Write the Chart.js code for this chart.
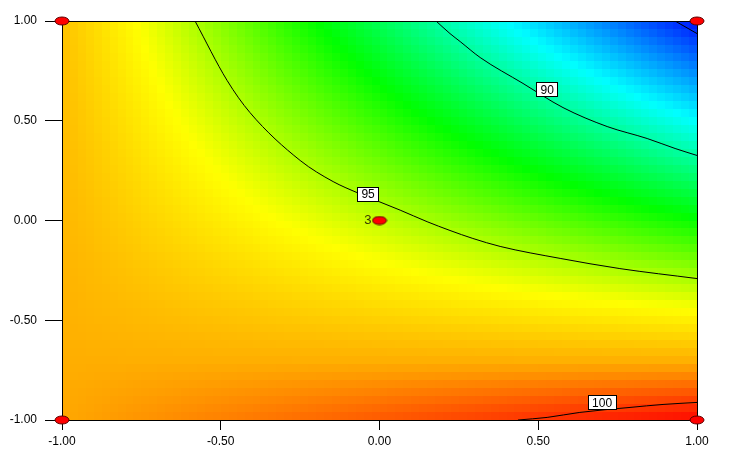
<!DOCTYPE html>
<html>
<head>
<meta charset="utf-8">
<script src="https://cdn.jsdelivr.net/npm/chart.js@4"></script>
<style>
  body { margin: 0; background: #fff; }
  canvas { display: block; }
</style>
</head>
<body>
<canvas id="contourChart" width="749" height="457"></canvas>
<script>
// response surface (rows from y = 1 down to y = -1)
const xGrid = [-1, -0.75, -0.5, -0.25, 0, 0.25, 0.5, 0.75, 1];
const yGrid = [1, 0.75, 0.5, 0.25, 0, -0.25, -0.5, -0.75, -1];
const zGrid = [
    [97.80, 96.11, 94.43, 92.74, 91.05, 89.36, 87.68, 85.99, 84.30],
    [97.88, 96.43, 94.99, 93.55, 92.11, 90.67, 89.23, 87.79, 86.35],
    [97.95, 96.76, 95.56, 94.37, 93.18, 91.98, 90.79, 89.59, 88.40],
    [98.03, 97.08, 96.13, 95.18, 94.24, 93.29, 92.34, 91.40, 90.45],
    [98.10, 97.40, 96.70, 96.00, 95.30, 94.60, 93.90, 93.20, 92.50],
    [98.18, 97.72, 97.27, 96.82, 96.36, 95.91, 95.46, 95.00, 94.55],
    [98.25, 98.04, 97.84, 97.63, 97.43, 97.22, 97.01, 96.81, 96.60],
    [98.33, 98.37, 98.41, 98.45, 98.49, 98.53, 98.57, 98.61, 98.65],
    [98.40, 98.69, 98.98, 99.26, 99.55, 99.84, 100.13, 100.41, 100.70]
];

// contour lines
const contour85 = [
    {x: 0.931, y: 1.0}, {x: 1.0, y: 0.937}
];
const contour90 = [
    {x: 0.178, y: 1.0}, {x: 0.222, y: 0.937}, {x: 0.254, y: 0.897}, {x: 0.317, y: 0.817},
    {x: 0.452, y: 0.687}, {x: 0.578, y: 0.566}, {x: 0.717, y: 0.471}, {x: 0.843, y: 0.411},
    {x: 0.931, y: 0.361}, {x: 1.0, y: 0.326}
];
const contour95 = [
    {x: -0.581, y: 1.0}, {x: -0.480, y: 0.702}, {x: -0.408, y: 0.541}, {x: -0.250, y: 0.301},
    {x: -0.146, y: 0.195}, {x: -0.071, y: 0.140}, {x: 0.065, y: 0.052},
    {x: 0.150, y: -0.006}, {x: 0.222, y: -0.050}, {x: 0.294, y: -0.090}, {x: 0.380, y: -0.130},
    {x: 0.569, y: -0.190}, {x: 0.757, y: -0.241}, {x: 1.0, y: -0.291}
];
const contour100 = [
    {x: 0.436, y: -1.0}, {x: 0.528, y: -0.987}, {x: 0.631, y: -0.962},
    {x: 0.789, y: -0.937}, {x: 0.893, y: -0.922}, {x: 1.0, y: -0.912}
];
const labelText = ['90', '95', '100'];
const labelX = [0.528, -0.036, 0.701];
const labelY = [0.657, 0.135, -0.912];

// design points
const designX = [-1, 1, -1, 1, 0];
const designY = [1, 1, -1, -1, 0];
const designLabels = ['', '', '', '', '3'];

const axisTicks = [-1, -0.5, 0, 0.5, 1];

// colour ramp: blue - cyan - green - yellow - orange - red
const rampZ = [84.0, 88.4, 92.4, 96.2, 98.3, 100.8];
const rampC = [[0, 0, 255], [0, 255, 255], [0, 255, 0], [255, 255, 0], [255, 175, 0], [255, 0, 0]];

function colourFor(z) {
    if (z <= rampZ[0]) return rampC[0];
    for (let i = 1; i < rampZ.length; i++) {
        if (z <= rampZ[i]) {
            const t = (z - rampZ[i - 1]) / (rampZ[i] - rampZ[i - 1]);
            return rampC[i].map((c, k) => Math.round(rampC[i - 1][k] + (c - rampC[i - 1][k]) * t));
        }
    }
    return rampC[rampC.length - 1];
}

// value of the surface between grid nodes (bilinear, for shading only)
function surfaceAt(x, y) {
    const n = xGrid.length - 1;
    let fx = (x - xGrid[0]) / (xGrid[n] - xGrid[0]) * n;
    let fy = (y - yGrid[0]) / (yGrid[n] - yGrid[0]) * n;
    fx = Math.min(Math.max(fx, 0), n);
    fy = Math.min(Math.max(fy, 0), n);
    const c0 = Math.min(Math.floor(fx), n - 1), r0 = Math.min(Math.floor(fy), n - 1);
    const tx = fx - c0, ty = fy - r0;
    const a = zGrid[r0][c0], b = zGrid[r0][c0 + 1];
    const c = zGrid[r0 + 1][c0], d = zGrid[r0 + 1][c0 + 1];
    return (a * (1 - tx) + b * tx) * (1 - ty) + (c * (1 - tx) + d * tx) * ty;
}

const FONT = "'Liberation Sans', Arial, sans-serif";
const CELLS_X = 80, CELLS_Y = 50;

const surfacePlugin = {
    id: 'surface',
    beforeDatasetsDraw(chart) {
        const {ctx, chartArea, scales} = chart;
        const off = document.createElement('canvas');
        off.width = CELLS_X;
        off.height = CELLS_Y;
        const octx = off.getContext('2d');
        const img = octx.createImageData(CELLS_X, CELLS_Y);
        for (let r = 0; r < CELLS_Y; r++) {
            const yv = 1 - 2 * (r + 0.5) / CELLS_Y;
            for (let c = 0; c < CELLS_X; c++) {
                const xv = -1 + 2 * (c + 0.5) / CELLS_X;
                const col = colourFor(surfaceAt(xv, yv));
                const i = (r * CELLS_X + c) * 4;
                img.data[i] = col[0];
                img.data[i + 1] = col[1];
                img.data[i + 2] = col[2];
                img.data[i + 3] = 255;
            }
        }
        octx.putImageData(img, 0, 0);
        const left = scales.x.getPixelForValue(-1);
        const right = scales.x.getPixelForValue(1);
        const top = scales.y.getPixelForValue(1);
        const bottom = scales.y.getPixelForValue(-1);
        ctx.save();
        ctx.imageSmoothingEnabled = false;
        ctx.drawImage(off, left, top, right - left, bottom - top);
        ctx.restore();

        // frame
        ctx.save();
        ctx.strokeStyle = '#000';
        ctx.lineWidth = 1;
        ctx.strokeRect(Math.round(chartArea.left) + 0.5, Math.round(chartArea.top) + 0.5,
            Math.round(chartArea.right - chartArea.left), Math.round(chartArea.bottom - chartArea.top));
        ctx.restore();
    },
    afterDatasetsDraw(chart) {
        const {ctx, scales} = chart;
        ctx.save();
        ctx.font = '12px ' + FONT;
        ctx.textAlign = 'center';
        ctx.textBaseline = 'middle';
        labelText.forEach((t, i) => {
            const px = scales.x.getPixelForValue(labelX[i]);
            const py = scales.y.getPixelForValue(labelY[i]);
            const w = ctx.measureText(t).width + 8;
            const h = 14;
            const bx = Math.round(px - w / 2) + 0.5, by = Math.round(py - h / 2) + 0.5;
            ctx.fillStyle = '#fff';
            ctx.fillRect(bx, by, Math.round(w), h);
            ctx.strokeStyle = '#000';
            ctx.strokeRect(bx, by, Math.round(w), h);
            ctx.fillStyle = '#000';
            ctx.fillText(t, px, py + 1);
        });
        // design point labels
        const meta = chart.getDatasetMeta(0);
        ctx.textAlign = 'right';
        ctx.font = '13px ' + FONT;
        ctx.fillStyle = '#3a3a00';
        meta.data.forEach((pt, i) => {
            if (designLabels[i]) ctx.fillText(designLabels[i], pt.x - 8, pt.y);
        });
        ctx.restore();
    }
};

// red ellipse marker
const marker = document.createElement('canvas');
marker.width = 16;
marker.height = 10;
(function () {
    const m = marker.getContext('2d');
    m.beginPath();
    m.ellipse(8, 5, 7, 4, 0, 0, Math.PI * 2);
    m.fillStyle = '#ff0000';
    m.fill();
    m.strokeStyle = '#5a0000';
    m.lineWidth = 1;
    m.stroke();
})();

function contourSet(points) {
    return {
        type: 'line',
        data: points,
        borderColor: '#000',
        borderWidth: 1,
        pointRadius: 0,
        cubicInterpolationMode: 'monotone',
        fill: false
    };
}

const ctx = document.getElementById('contourChart').getContext('2d');
new Chart(ctx, {
    type: 'scatter',
    data: {
        datasets: [
            {
                data: designX.map((x, i) => ({x: x, y: designY[i]})),
                pointStyle: marker,
                clip: false
            },
            contourSet(contour85),
            contourSet(contour90),
            contourSet(contour95),
            contourSet(contour100)
        ]
    },
    options: {
        responsive: false,
        animation: false,
        layout: {padding: {top: 21, right: 52, left: 0, bottom: 0}},
        plugins: {legend: {display: false}, tooltip: {enabled: false}},
        scales: {
            x: {
                type: 'linear',
                min: -1,
                max: 1,
                afterBuildTicks: (s) => { s.ticks = axisTicks.map(v => ({value: v})); },
                afterFit: (s) => { s.height = 37; },
                grid: {drawOnChartArea: false, drawTicks: true, tickLength: 10, color: '#000'},
                border: {color: '#000'},
                ticks: {
                    color: '#000',
                    font: {size: 12, family: FONT},
                    padding: 4,
                    maxRotation: 0,
                    callback: (v) => Number(v).toFixed(2)
                }
            },
            y: {
                type: 'linear',
                min: -1,
                max: 1,
                afterBuildTicks: (s) => { s.ticks = axisTicks.map(v => ({value: v})); },
                afterFit: (s) => { s.width = 62; },
                grid: {drawOnChartArea: false, drawTicks: true, tickLength: 17, color: '#000'},
                border: {color: '#000'},
                ticks: {
                    color: '#000',
                    font: {size: 12, family: FONT},
                    padding: 8,
                    callback: (v) => Number(v).toFixed(2)
                }
            }
        }
    },
    plugins: [surfacePlugin]
});
</script>
</body>
</html>
